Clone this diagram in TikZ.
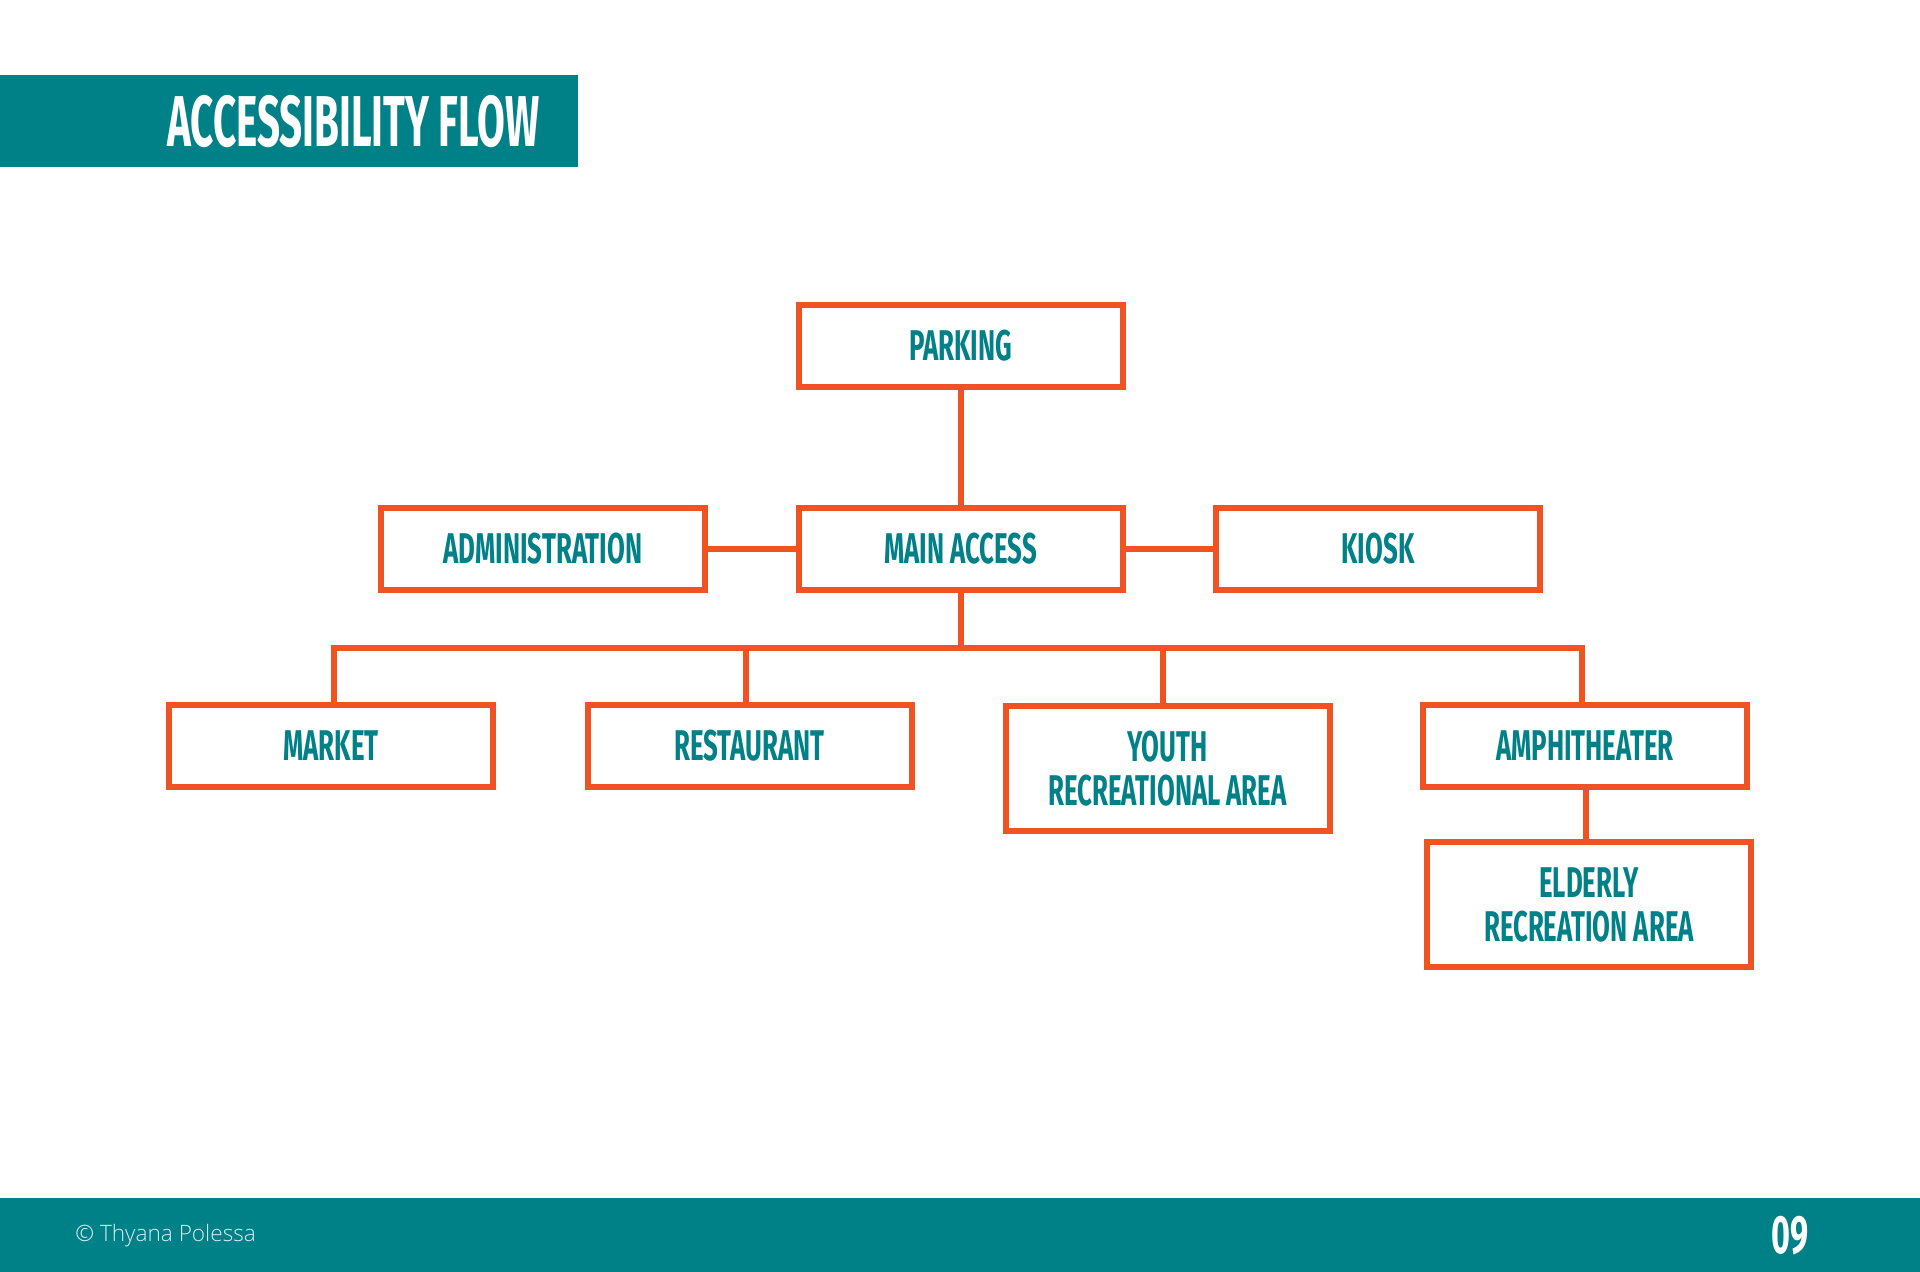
\documentclass[tikz,border=0pt]{standalone}
\usepackage{fontspec}
\newfontfamily\bebas{Fira Sans}[FakeStretch=0.6]
\newfontfamily\bebastitle{Fira Sans}[FakeStretch=0.56]
\newfontfamily\footfont{Open Sans}[UprightFont=* Light]
\definecolor{teal0}{HTML}{008087}
\definecolor{orng}{HTML}{F05323}
\tikzset{
  box/.style={draw=orng, line width=3pt, fill=white, minimum width=162pt, minimum height=41pt,
    inner sep=0pt, align=center, text=teal0, font=\bebas\bfseries\fontsize{21.5}{22}\selectfont},
  tall/.style={box, minimum height=62.5pt},
  link/.style={draw=orng, line width=3pt, line cap=rect}
}
\begin{document}
\begin{tikzpicture}[x=0.5pt,y=-0.5pt]
\useasboundingbox (0,0) rectangle (1920,1272);
\fill[white] (0,0) rectangle (1920,1272);
% title bar
\fill[teal0] (0,75) rectangle (578,167);
\node[anchor=east, text=white, font=\bebastitle\bfseries\fontsize{36}{36}\selectfont, inner sep=0pt] (title) at (540,122) {ACCESSIBILITY FLOW};
% footer
\fill[teal0] (0,1198) rectangle (1920,1272);
\node[anchor=west, text=white!85!teal0, font=\footfont\fontsize{11.3}{13}\selectfont, inner sep=0pt] (copy) at (75,1236) {© Thyana Polessa};
\node[anchor=east, text=white, font=\bebas\bfseries\fontsize{27}{27}\selectfont, inner sep=0pt] (page) at (1809,1236) {09};
\coordinate (bus) at (961,648);
% links
\draw[link] (961,380) -- (bus);
\draw[link] (500,549) -- (1400,549);
\draw[link] (334,720) |- (bus) -| (1582,720);
\draw[link] (746,720) -- (746,648);
\draw[link] (1163,720) -- (1163,648);
\draw[link] (1586,760) -- (1586,860);
% nodes
\node[box] (parking) at (960.5,346) {PARKING};
\node[box] (main) at (960.5,549) {MAIN ACCESS};
\node[box] (admin) at (543,549) {ADMINISTRATION};
\node[box] (kiosk) at (1378,549) {KIOSK};
\node[box] (market) at (331,746) {MARKET};
\node[box] (rest) at (749.5,746) {RESTAURANT};
\node[tall] (youth) at (1167.5,768.5) {YOUTH\\RECREATIONAL AREA};
\node[box] (amph) at (1585,746) {AMPHITHEATER};
\node[tall] (elder) at (1589,904.5) {ELDERLY\\RECREATION AREA};
\end{tikzpicture}
\end{document}
